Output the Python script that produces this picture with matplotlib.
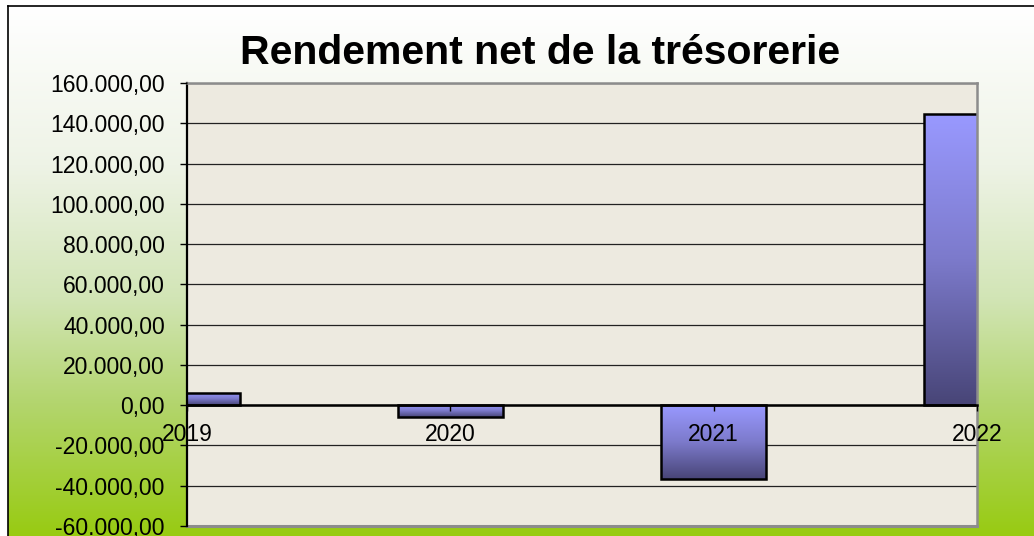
import numpy as np
import matplotlib
matplotlib.use("Agg")
import matplotlib.pyplot as plt
from matplotlib.colors import LinearSegmentedColormap
from matplotlib.ticker import FuncFormatter
from matplotlib.lines import Line2D

# -----------------------------
# Data
# -----------------------------
years = [2019, 2020, 2021, 2022]
rendement = [6000, -6000, -36500, 144500]
y_ticks = list(range(-60000, 160001, 20000))
title = "Rendement net de la trésorerie"


def fr_number(x, pos):
    s = f"{x:,.2f}"
    return s.replace(",", "X").replace(".", ",").replace("X", ".")


plt.rcParams["font.family"] = ["Liberation Sans", "DejaVu Sans"]

W, H = 1034, 536
fig = plt.figure(figsize=(W / 100, H / 100), dpi=100)
fig.patch.set_facecolor("white")

# -----------------------------
# Background gradient (white -> yellow green)
# -----------------------------
bg = fig.add_axes([0, 0, 1, 1], zorder=-10)
bg.set_xlim(0, 1)
bg.set_ylim(0, 1)
bg.axis("off")
bg_cmap = LinearSegmentedColormap.from_list(
    "bg",
    [(0.0, "#ffffff"), (0.3, "#eef3e6"), (0.55, "#d2e5b6"),
     (0.75, "#b3d56e"), (1.0, "#98cb12")],
)
grad = np.linspace(0, 1, 256).reshape(-1, 1)
bg.imshow(grad, cmap=bg_cmap, aspect="auto",
          extent=[8 / W, 1, 0, 1 - 6 / H], origin="upper")
fig.add_artist(Line2D([8 / W, 8 / W], [0, 1 - 6 / H], color="black", lw=1.2))
fig.add_artist(Line2D([8 / W, 1], [1 - 6 / H, 1 - 6 / H], color="black", lw=1.2))

# -----------------------------
# Main plot
# -----------------------------
left, right, top, bottom = 187, 977, 83, 526
ax = fig.add_axes([left / W, 1 - bottom / H, (right - left) / W, (bottom - top) / H])
ax.set_facecolor("#edeae0")

for yv in y_ticks:
    ax.axhline(yv, color="#222222", lw=0.9, zorder=1)

bar_cmap = LinearSegmentedColormap.from_list(
    "bar", ["#9999ff", "#7c7acb", "#484577"])
bars = ax.bar(years, rendement, width=0.4, color="none",
              edgecolor="black", linewidth=1.8, zorder=3)
for b in bars:
    x0, y0 = b.get_x(), b.get_y()
    x1, y1 = x0 + b.get_width(), y0 + b.get_height()
    im = ax.imshow(grad, cmap=bar_cmap, aspect="auto", origin="upper",
                   extent=[x0, x1, min(y0, y1), max(y0, y1)], zorder=2.8)
    # keep the axes clip box, add the bar outline as clip path
    im.set_clip_path(b.get_path(), b.get_transform())

ax.set_xlim(2019, 2022)
ax.set_ylim(-60000, 160000)
ax.set_yticks(y_ticks)
ax.yaxis.set_major_formatter(FuncFormatter(fr_number))
ax.set_xticks(years)
ax.set_xticklabels([str(y) for y in years])

ax.spines["bottom"].set_position(("data", 0))
ax.spines["bottom"].set_linewidth(1.8)
ax.spines["bottom"].set_color("black")
ax.spines["left"].set_linewidth(1.6)
ax.spines["left"].set_color("black")
for s in ["top", "right"]:
    ax.spines[s].set_color("#8c8c8c")
    ax.spines[s].set_linewidth(1.8)
for s in ax.spines.values():
    s.set_zorder(4)
ax.plot([0, 1], [0, 0], transform=ax.transAxes, color="#8c8c8c",
        lw=2.2, clip_on=False, zorder=4)

ax.tick_params(axis="y", length=5, width=1, pad=11, labelsize=16.5)
ax.tick_params(axis="x", length=4, width=1, pad=9, labelsize=16.5,
               direction="out")
ax.xaxis.set_zorder(5)
ax.yaxis.set_zorder(5)

fig.text(540 / W, 1 - 53 / H, title, ha="center", va="center",
         fontsize=29.5, fontweight="bold")

fig.savefig("out.png", dpi=100)
